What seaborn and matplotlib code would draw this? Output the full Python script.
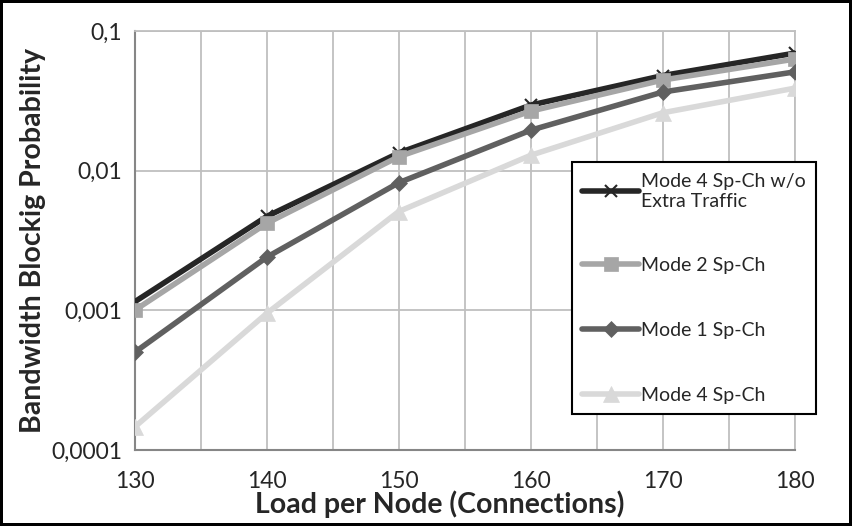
import matplotlib
matplotlib.use("Agg")
import matplotlib.pyplot as plt
import seaborn as sns
import pandas as pd
import numpy as np

loads = [130, 140, 150, 160, 170, 180]
mode4_wo = [0.00115, 0.0047, 0.0134, 0.0295, 0.048, 0.0695]
mode2 = [0.00100, 0.0042, 0.0126, 0.0267, 0.0446, 0.063]
mode1 = [0.00050, 0.0024, 0.0082, 0.0195, 0.0366, 0.051]
mode4 = [0.000146, 0.00095, 0.0051, 0.0129, 0.026, 0.039]

series_names = ["Mode 4 Sp-Ch w/o\nExtra Traffic", "Mode 2 Sp-Ch", "Mode 1 Sp-Ch", "Mode 4 Sp-Ch"]
series_vals = [mode4_wo, mode2, mode1, mode4]
y_ticks = [0.0001, 0.001, 0.01, 0.1]
y_tick_labels = ["0,0001", "0,001", "0,01", "0,1"]
x_ticks = [130, 140, 150, 160, 170, 180]

colors = ["#262626", "#a6a6a6", "#606060", "#d9d9d9"]
markers = ["x", "s", "D", "^"]
msizes = [9, 10, 8, 12]

sns.set_theme(style="white")
plt.rcParams['font.family'] = ['Lato', 'DejaVu Sans']

fig = plt.figure(figsize=(8.52, 5.26), dpi=100, linewidth=3, edgecolor="black")
ax = fig.add_axes([0.158, 0.1445, 0.775, 0.7965])

for name, vals, c, m, ms in zip(series_names, series_vals, colors, markers, msizes):
    df = pd.DataFrame({"load": loads, "p": vals})
    sns.lineplot(data=df, x="load", y="p", ax=ax, color=c, lw=4, marker=m,
                 markersize=ms, markeredgecolor=c, markeredgewidth=1.5 if m == "x" else 0.5,
                 label=name, zorder=3)

ax.set_yscale("log")
ax.set_ylim(0.0001, 0.1)
ax.set_xlim(130, 180)
ax.set_yticks(y_ticks)
ax.set_yticklabels(y_tick_labels)
ax.yaxis.set_minor_locator(matplotlib.ticker.NullLocator())
ax.set_xticks(x_ticks)
ax.set_xticks([135, 145, 155, 165, 175], minor=True)
ax.grid(True, which="major", color="#bfbfbf", lw=1.3)
ax.grid(True, which="minor", axis="x", color="#bfbfbf", lw=1.3)
ax.tick_params(axis="both", which="major", labelsize=16.5, length=6, width=1.3,
               color="#868686", direction="out", pad=3)
ax.tick_params(axis="x", which="minor", length=0)
ax.tick_params(axis="x", which="major", pad=9)
for sp in ["left", "bottom"]:
    ax.spines[sp].set_color("#868686")
    ax.spines[sp].set_linewidth(1.5)
for sp in ["top", "right"]:
    ax.spines[sp].set_color("#bfbfbf")
    ax.spines[sp].set_linewidth(1.3)

ax.set_xlabel("Load per Node (Connections)", fontsize=20.5, fontweight="bold")
ax.set_ylabel("Bandwidth Blockig Probability", fontsize=20.5, fontweight="bold")
ax.xaxis.set_label_coords(0.462, -0.096)
ax.yaxis.set_label_coords(-0.134, 0.5)

leg = ax.legend(loc="upper left", bbox_to_anchor=(0.662, 0.687), frameon=True,
                fontsize=14, handlelength=2.9, handletextpad=0.1, labelspacing=2.45,
                borderpad=0.55, fancybox=False, borderaxespad=0)
leg.get_frame().set_edgecolor("black")
leg.get_frame().set_linewidth(1.5)
leg.get_frame().set_facecolor("white")
leg.get_frame().set_alpha(1)

fig.savefig("out.png", dpi=100, edgecolor=fig.get_edgecolor())
